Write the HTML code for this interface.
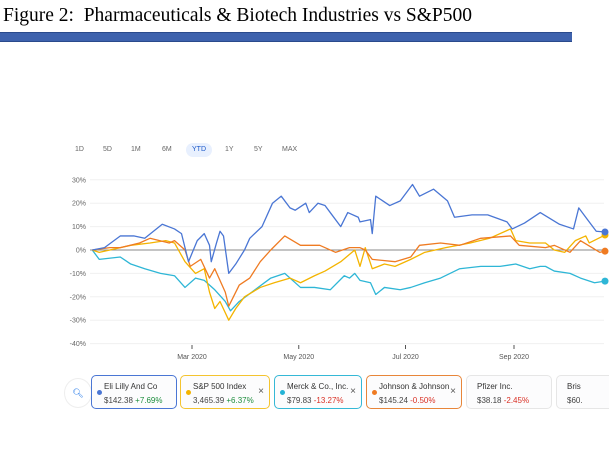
<!DOCTYPE html>
<html><head><meta charset="utf-8"><style>
body{margin:0;width:609px;height:455px;background:#fff;overflow:hidden;position:relative;font-family:"Liberation Sans",sans-serif}
.title{position:absolute;left:3px;top:5px;font-family:"Liberation Serif",serif;font-size:19.5px;color:#000;white-space:nowrap}
.bar{position:absolute;left:0;top:32px;width:572px;height:8px;background:#3e62ad;border-top:1px solid #2a4a8c;border-bottom:1px solid #2a4a8c}
.rb{position:absolute;top:146px;font-size:7px;color:#666}
.card{position:absolute;top:375px;height:34px;border:1px solid;border-radius:5px;box-sizing:border-box;font-size:8px;color:#333;background:#fcfcfd}
.card .n{position:absolute;left:12px;top:6px;white-space:nowrap}
.card .p{position:absolute;left:12px;top:20px;white-space:nowrap;color:#444}
.card .d{position:absolute;left:5px;top:14px;width:5px;height:5px;border-radius:50%}
.card .x{position:absolute;right:5px;top:10px;font-size:10px;color:#555}
.g{color:#1e8e3e}.r{color:#d93025}
</style></head><body>
<div class="title">Figure 2:&nbsp; Pharmaceuticals &amp; Biotech Industries vs S&amp;P500</div>
<div class="bar"></div>
<div class="rb" style="left:75px">1D</div>
<div class="rb" style="left:103px">5D</div>
<div class="rb" style="left:131px">1M</div>
<div class="rb" style="left:162px">6M</div>
<div class="rb" style="left:186px;top:143px;width:26px;height:14px;line-height:14px;text-align:center;background:#e8f0fe;border-radius:7px;color:#1a57c9">YTD</div>
<div class="rb" style="left:225px">1Y</div>
<div class="rb" style="left:254px">5Y</div>
<div class="rb" style="left:282px">MAX</div>
<svg id="chart" width="609" height="455" style="position:absolute;left:0;top:0"></svg>
<div style="position:absolute;left:64px;top:378px;width:26px;height:28px;border-radius:50%;border:1px solid #eee;color:#1a73e8;font-size:9px;line-height:28px;text-align:center">&#x1F50D;&#xFE0E;</div>
<div class="card" style="left:91px;width:86px;border-color:#4a76d4"><span class="d" style="background:#4a76d4"></span><span class="n">Eli Lilly And Co</span><span class="p">$142.38 <span class="g">+7.69%</span></span></div>
<div class="card" style="left:180px;width:90px;border-color:#f4c430"><span class="d" style="background:#f4b400"></span><span class="n">S&amp;P 500 Index</span><span class="p">3,465.39 <span class="g">+6.37%</span></span><span class="x">×</span></div>
<div class="card" style="left:274px;width:88px;border-color:#35b8d6"><span class="d" style="background:#24b3d6"></span><span class="n">Merck &amp; Co., Inc.</span><span class="p">$79.83 <span class="r">-13.27%</span></span><span class="x">×</span></div>
<div class="card" style="left:366px;width:96px;border-color:#e8863a"><span class="d" style="background:#ef7b22"></span><span class="n">Johnson &amp; Johnson</span><span class="p">$145.24 <span class="r">-0.50%</span></span><span class="x">×</span></div>
<div class="card" style="left:466px;width:86px;border-color:#e6e6e6"><span class="n" style="left:10px">Pfizer Inc.</span><span class="p" style="left:10px">$38.18 <span class="r">-2.45%</span></span></div>
<div class="card" style="left:556px;width:70px;border-color:#e6e6e6"><span class="n" style="left:10px">Bris</span><span class="p" style="left:10px">$60.</span></div>
<script>
const yTicks=[30,20,10,0,-10,-20,-30,-40];
const yTickLabels=["30%","20%","10%","0%","-10%","-20%","-30%","-40%"];
const xTicks=[60,121,182,244];
const xTickLabels=["Mar 2020","May 2020","Jul 2020","Sep 2020"];
const lillyDays=[3,10,19,27,33,38,43,50,54,58,63,67,70,71,74,76,78,81,85,90,93,100,106,111,116,119,125,127,132,136,139,145,149,155,156,162,163,165,173,179,186,190,198,206,210,220,229,240,243,250,259,270,278,281,286,291,296];
const lillyVals=[0,1,6,6,5,8,11,9,7,-5,4,7,2,-5,3,8,6,-10,-6,0,5,10,20,23,18,17,20,16,20,19,16,10,16,14,12,13,7,23,19,21,28,23,26,21,14,15,15,12,9,11.5,16,11,9,18,13,8,7.7];
const spDays=[3,7,25,36,45,50,56,62,67,70,73,76,81,85,90,99,107,116,122,130,136,145,153,156,159,163,170,176,185,193,205,219,230,242,245,253,262,267,273,279,285,287,296];
const spVals=[0,-1,2,3,4,3,-5,-10,-8,-18,-25,-22,-30,-25,-20,-16,-14,-12,-14,-11,-9,-5,0,-7,1,-8,-6,-7,-4,-1,1,3,5,9,4,3,3,0,-1,4,6,3,6.4];
const merckDays=[3,7,19,25,33,42,50,56,62,67,73,79,82,87,96,105,113,122,130,139,147,150,153,156,162,165,170,179,185,193,202,213,225,236,245,253,259,262,267,276,282,290,296];
const merckVals=[0,-4,-3,-6,-8,-10,-11,-16,-12,-13,-17,-22,-26,-22,-17,-12,-10,-16,-16,-17,-11,-12,-10,-13,-14,-19,-16,-17,-16,-14,-12,-8,-7,-7,-6,-8,-7,-7,-9,-10,-12,-14,-13.3];
const jnjDays=[3,13,19,30,36,47,50,56,59,65,70,73,79,81,87,93,99,105,113,122,133,142,150,156,159,163,176,185,190,202,213,225,242,247,262,267,276,282,293,296];
const jnjVals=[0,1,1,3,5,3,4,0,-7,-4,-12,-8,-18,-24,-15,-12,-5,0,6,2,2,-1,1,1,0,-4,-5,-3,2,3,2,5,6,2,1,2,-1,4,-1,-0.5];
const svg=document.getElementById('chart');
const NS='http://www.w3.org/2000/svg';
const X=d=>87+d*1.75, Y=v=>250-v*2.34;
function mk(t,a){const e=document.createElementNS(NS,t);for(const k in a)e.setAttribute(k,a[k]);svg.appendChild(e);return e;}
yTicks.forEach((v,i)=>{
 const l=mk('line',{x1:90,x2:604,y1:Y(v),y2:Y(v),stroke:v===0?'#8a8a8a':'#f0f0f0','stroke-width':1});
 
 
 const t=mk('text',{x:86,y:Y(v)+2.5,'text-anchor':'end','font-size':7,fill:'#666','font-family':'Liberation Sans'});
 t.textContent=yTickLabels[i];
 
 
});
xTicks.forEach((d,i)=>{
 const l=mk('line',{x1:X(d),x2:X(d),y1:345,y2:349,stroke:'#555'});
 
 
 const t=mk('text',{x:X(d),y:359,'text-anchor':'middle','font-size':7,fill:'#555','font-family':'Liberation Sans'});
 t.textContent=xTickLabels[i];
 
 
});
function series(days,vals,color,name){
 const p=mk('polyline',{points:days.map((d,i)=>X(d)+','+Y(vals[i])).join(' '),fill:'none',stroke:color,'stroke-width':1.3,'stroke-linejoin':'round'});
 
 
 const n=days.length-1;
 const c=mk('circle',{cx:X(days[n]),cy:Y(vals[n]),r:3.5,fill:color});
 
 
}
series(merckDays,merckVals,'#2eb6d6','merck');
series(spDays,spVals,'#f4b400','sp500');
series(jnjDays,jnjVals,'#ef7b22','jnj');
series(lillyDays,lillyVals,'#4a76d4','lilly');
</script>
</body></html>
